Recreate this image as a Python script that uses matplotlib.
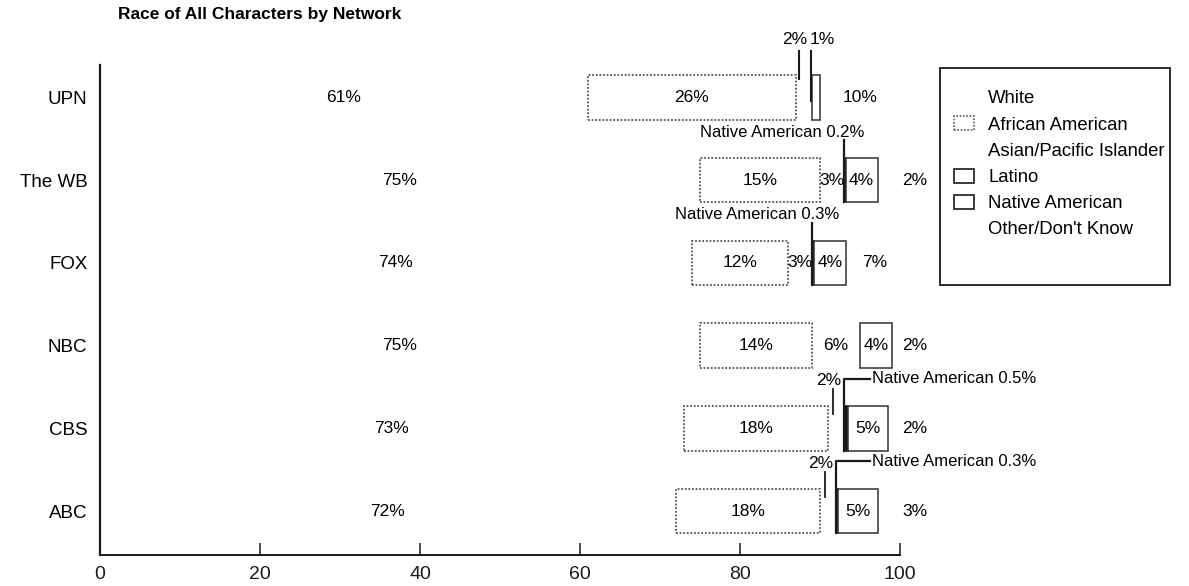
import matplotlib.pyplot as plt
from matplotlib.patches import Patch, Rectangle

plt.rcParams['font.family'] = ['Liberation Sans', 'DejaVu Sans']

# data, bottom to top
networks = ["ABC", "CBS", "NBC", "FOX", "The WB", "UPN"]
white = [72, 73, 75, 74, 75, 61]
african_american = [18, 18, 14, 12, 15, 26]
asian = [2, 2, 6, 3, 3, 2]
native_american = [0.3, 0.5, 0, 0.3, 0.2, 0]
latino = [5, 5, 4, 4, 4, 1]
other = [3, 2, 2, 7, 2, 10]
xticks = [0, 20, 40, 60, 80, 100]


def pct(v):
    return "%g%%" % v


fig = plt.figure(figsize=(11.89, 5.86), dpi=100)
ax = fig.add_axes([0.0841, 0.0529, 0.6728, 0.836])

ys = list(range(len(networks)))
h = 0.54
ink = "#1a1a1a"
fs = 12.5

for i, y in enumerate(ys):
    left = 0
    # White
    ax.barh(y, white[i], left=left, height=h, color="white", edgecolor="none")
    ax.text(left + white[i] / 2, y, pct(white[i]), ha="center", va="center", fontsize=fs)
    left += white[i]
    # African American
    ax.barh(y, african_american[i], left=left, height=h, facecolor="white",
            edgecolor="#555555", linestyle=(0, (1, 1)), linewidth=1.3)
    ax.text(left + african_american[i] / 2, y, pct(african_american[i]),
            ha="center", va="center", fontsize=fs)
    left += african_american[i]
    # Asian/Pacific Islander
    a = asian[i]
    if a >= 3:
        ax.text(left + a / 2, y, pct(a), ha="center", va="center", fontsize=fs)
    left += a
    # Native American
    na = native_american[i]
    na_x = left
    if na > 0:
        ax.barh(y, na, left=left, height=h, facecolor=ink, edgecolor=ink, linewidth=1.2)
    left += na
    # Latino
    ax.barh(y, latino[i], left=left, height=h, facecolor="white",
            edgecolor="#333333", linewidth=1.1)
    if latino[i] >= 3:
        ax.text(left + latino[i] / 2, y, pct(latino[i]), ha="center", va="center", fontsize=fs)
    lat_x = left
    left += latino[i]
    # Other
    o = other[i]
    if o >= 5:
        ax.text(left + o / 2, y, pct(o), ha="center", va="center", fontsize=fs)
    else:
        ax.text(101.9, y, pct(o), ha="center", va="center", fontsize=fs)

    name = networks[i]
    if name == "UPN":
        ax_x = white[i] + african_american[i] + asian[i] / 2 - 0.6
        ax.plot([ax_x, ax_x], [y + 0.22, y + 0.56], color=ink, lw=1.5, clip_on=False)
        ax.text(ax_x - 0.5, y + 0.7, pct(asian[i]), ha="center", va="center", fontsize=fs)
        lx = lat_x + latino[i] / 2 - 0.6
        ax.plot([lx, lx], [y - 0.04, y + 0.56], color=ink, lw=1.5, clip_on=False)
        ax.text(lx + 1.35, y + 0.7, pct(latino[i]), ha="center", va="center", fontsize=fs)
    elif name in ("The WB", "FOX"):
        ax.plot([na_x, na_x], [y - 0.27, y + 0.48], color=ink, lw=1.6, clip_on=False)
        lbl_x = 85.3 if name == "The WB" else 82.1
        ax.text(lbl_x, y + 0.58, "Native American " + pct(na), ha="center",
                va="center", fontsize=12)
    elif name in ("CBS", "ABC"):
        ax_x = white[i] + african_american[i] + asian[i] / 2 - 0.4
        ax.plot([ax_x, ax_x], [y + 0.17, y + 0.47], color=ink, lw=1.3)
        ax.text(ax_x - 0.5, y + 0.58, pct(asian[i]), ha="center", va="center", fontsize=fs)
        ax.plot([na_x, na_x, 96.2], [y - 0.27, y + 0.6, y + 0.6], color=ink, lw=1.6,
                clip_on=False)
        ax.text(96.5, y + 0.6, "Native American " + pct(na), ha="left",
                va="center", fontsize=12)

ax.set_xlim(0, 100)
ax.set_ylim(-0.53, 5.39)
ax.set_yticks(ys)
ax.set_yticklabels(networks, fontsize=13.5)
ax.tick_params(axis="y", length=0, pad=9)
ax.set_xticks(xticks)
ax.set_xticklabels([str(t) for t in xticks], fontsize=14)
ax.tick_params(axis="x", direction="in", length=9, width=1.1, pad=8, colors=ink)
for s in ("top", "right"):
    ax.spines[s].set_visible(False)
ax.spines["left"].set_linewidth(1.6)
ax.spines["bottom"].set_linewidth(1.4)
ax.spines["left"].set_color(ink)
ax.spines["bottom"].set_color(ink)

fig.text(118 / 1189, 1 - 15 / 586, "Race of All Characters by Network",
         fontsize=12.5, fontweight="bold", ha="left", va="center")

# legend
handles = [
    Patch(facecolor="none", edgecolor="none", label="White"),
    Patch(facecolor="white", edgecolor="#555555", linestyle=(0, (1, 1)), linewidth=1.2,
          label="African American"),
    Patch(facecolor="none", edgecolor="none", label="Asian/Pacific Islander"),
    Patch(facecolor="white", edgecolor=ink, linewidth=1.2, label="Latino"),
    Patch(facecolor="white", edgecolor=ink, linewidth=1.2, label="Native American"),
    Patch(facecolor="none", edgecolor="none", label="Other/Don't Know"),
]
fig.legend(handles=handles, loc="upper left", bbox_to_anchor=(954 / 1189, 1 - 90 / 586),
           frameon=False, fontsize=13.3, labelspacing=0.47, handlelength=1.1,
           handleheight=0.8, handletextpad=0.75, borderpad=0, borderaxespad=0)
fig.patches.append(Rectangle((940 / 1189, 1 - 285 / 586), 230 / 1189, 217 / 586,
                             transform=fig.transFigure, fill=False, edgecolor=ink,
                             linewidth=1.3))

fig.savefig("out.png", dpi=100)
